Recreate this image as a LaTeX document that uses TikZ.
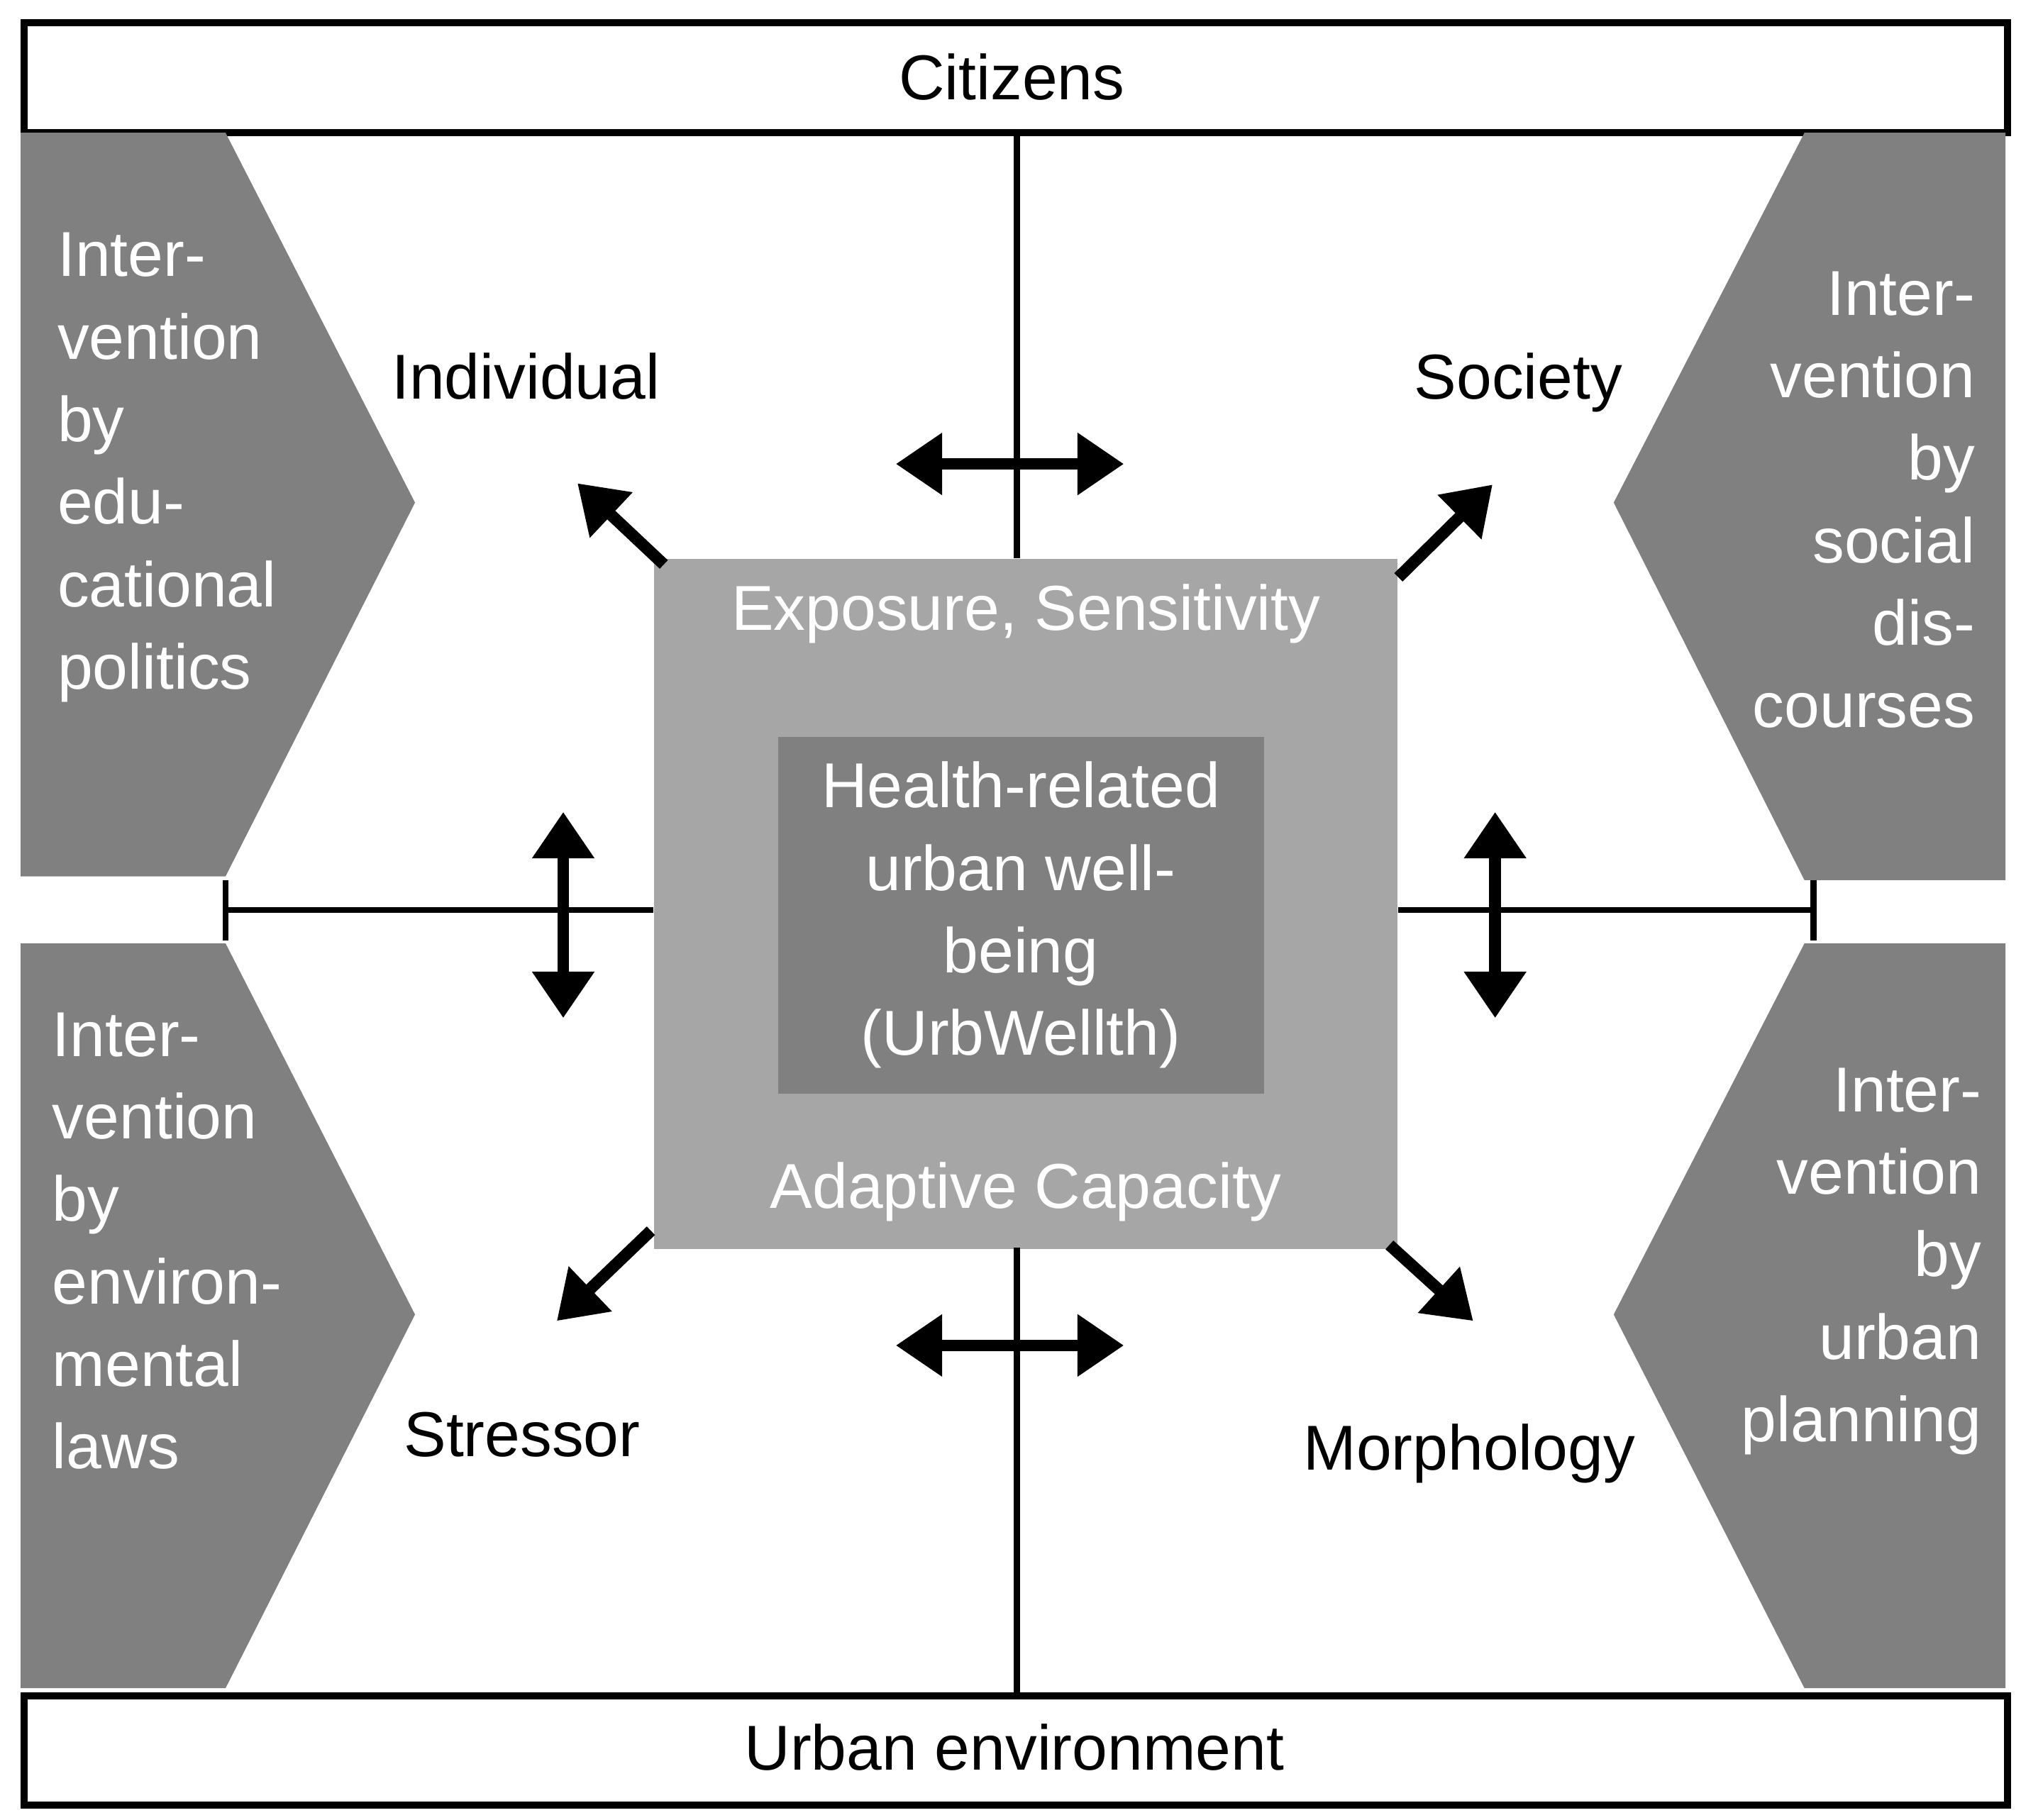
\documentclass[tikz,border=0pt]{standalone}
\usepackage{fontspec}
\setmainfont{Liberation Sans}
\usetikzlibrary{arrows.meta}
\begin{document}
\begin{tikzpicture}[x=0.01cm,y=-0.01cm,
  box/.style={draw=black,line width=1.6pt,fill=white},
  pent/.style={fill=gray50,draw=none},
  thin/.style={line width=1.3pt},
  arr/.style={line width=2.6pt,-{Triangle[length=0.36cm,width=0.46cm]}},
  darr/.style={line width=2.6pt,{Triangle[length=0.36cm,width=0.46cm]}-{Triangle[length=0.36cm,width=0.46cm]}},
  txt/.style={font=\fontsize{14}{18.2}\selectfont,inner sep=0pt},
  wtxt/.style={txt,text=white}]
\definecolor{gray50}{HTML}{808080}
\definecolor{gray65}{HTML}{A6A6A6}
\useasboundingbox (0,0) rectangle (1568,1412);
% top/bottom
\node[box,minimum width=15.38cm,minimum height=0.85cm,anchor=north west,txt] (cit) at (16,15) {};
\node[txt] at (785,60) {Citizens};
\node[box,minimum width=15.38cm,minimum height=0.85cm,anchor=north west] (urb) at (16,1313) {};
\node[txt] at (787,1356) {Urban environment};
% pentagons
\fill[pent] (16,103) -- (175,103) -- (322,390) -- (175,680) -- (16,680) -- cycle;
\fill[pent] (16,732) -- (175,732) -- (322,1020) -- (175,1310) -- (16,1310) -- cycle;
\fill[pent] (1556,103) -- (1400,103) -- (1252,390) -- (1400,683) -- (1556,683) -- cycle;
\fill[pent] (1556,732) -- (1400,732) -- (1252,1020) -- (1400,1310) -- (1556,1310) -- cycle;
\node[wtxt,align=left,anchor=north west] (tl) at (44,180) {Inter-\\vention\\by\\edu-\\cational\\politics};
\node[wtxt,align=left,anchor=north west] (bl) at (40,785) {Inter-\\vention\\by\\environ-\\mental\\laws};
\node[wtxt,align=right,anchor=north east] (tr) at (1533,210) {Inter-\\vention\\by\\social\\dis-\\courses};
\node[wtxt,align=right,anchor=north east] (br) at (1538,828) {Inter-\\vention\\by\\urban\\planning};
% center squares
\node[fill=gray65,minimum width=5.76cm,minimum height=5.35cm,anchor=north west,inner sep=0pt] (big) at (507,433) {};
\node[fill=gray50,minimum width=3.77cm,minimum height=2.77cm,anchor=north west,inner sep=0pt] (small) at (603,571) {};
\node[wtxt] at (796,476) {Exposure,\ Sensitivity};
\node[wtxt,align=center] at (792,710) {Health-related\\urban well-\\being\\(UrbWellth)};
\node[wtxt] at (796,925) {Adaptive\ Capacity};
% lines
\coordinate (lt) at (175,706); \coordinate (rt) at (1407,706);
\draw[thin] (789,100) -- (big.north -| 789,0);
\draw[thin] (789,968) -- (789,1313);
\draw[thin] (lt) -- (big.west |- lt);
\draw[thin] (big.east |- rt) -- (rt);
\draw[thin] (175,683) -- (175,730);
\draw[thin] (1407,683) -- (1407,730);
% double arrows
\draw[darr] (695,360) -- (872,360);
\draw[darr] (695,1044) -- (872,1044);
\draw[darr] (437,630) -- (437,790);
\draw[darr] (1160,630) -- (1160,790);
% labels
\node[txt] (ind) at (408,292) {Individual};
\node[txt] (soc) at (1178,297) {Society};
\node[txt] (str) at (405,1113) {Stressor};
\node[txt] (mor) at (1140,1128) {Morphology};
% diagonal arrows
\draw[arr] (515,438) -- (448,375);
\draw[arr] (1085,448) -- (1158,376);
\draw[arr] (505,955) -- (432,1025);
\draw[arr] (1078,966) -- (1143,1025);
\end{tikzpicture}
\end{document}
